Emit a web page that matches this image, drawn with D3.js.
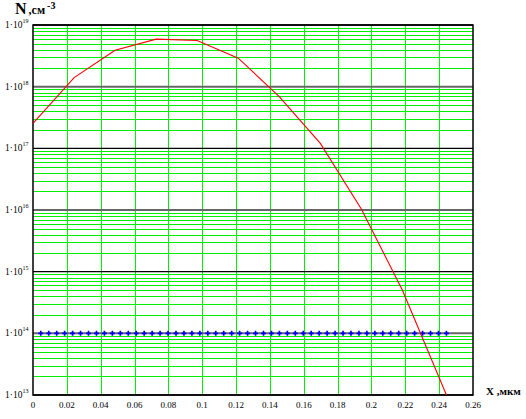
<!DOCTYPE html>
<html>
<head>
<meta charset="utf-8">
<script src="https://cdn.jsdelivr.net/npm/d3@7"></script>
<style>
  body { margin: 0; background: #fff; }
  text { font-family: "Liberation Serif", "DejaVu Serif", serif; fill: #000; }
</style>
</head>
<body>
<svg width="526" height="419"></svg>
<script>
// red profile, x in мкм, N in см^-3
const redX = [0, 0.0243, 0.0485, 0.0728, 0.097, 0.1213, 0.1455, 0.1698, 0.194, 0.2183, 0.2443];
const redN = [2.55e17, 1.4e18, 3.9e18, 5.9e18, 5.6e18, 2.9e18, 6.9e17, 1.2e17, 1.04e16, 5e14, 1e13];

// blue background level
const blueX = [
  0.0046, 0.0093, 0.0140, 0.0187, 0.0234, 0.0281, 0.0328, 0.0375, 0.0422, 0.0469,
  0.0516, 0.0563, 0.0610, 0.0657, 0.0704, 0.0751, 0.0798, 0.0845, 0.0892, 0.0939,
  0.0986, 0.1033, 0.1080, 0.1127, 0.1174, 0.1221, 0.1268, 0.1315, 0.1362, 0.1409,
  0.1456, 0.1503, 0.1550, 0.1597, 0.1644, 0.1691, 0.1738, 0.1785, 0.1832, 0.1879,
  0.1926, 0.1973, 0.2020, 0.2067, 0.2114, 0.2161, 0.2208, 0.2255, 0.2302, 0.2349,
  0.2396, 0.2443
];
const blueLevel = 1e14;

const xTicks = [0, 0.02, 0.04, 0.06, 0.08, 0.1, 0.12, 0.14, 0.16, 0.18, 0.2, 0.22, 0.24, 0.26];
const xTickLabels = ['0', '0.02', '0.04', '0.06', '0.08', '0.1', '0.12', '0.14', '0.16', '0.18', '0.2', '0.22', '0.24', '0.26'];
const yDecades = [13, 14, 15, 16, 17, 18, 19];

const margin = { top: 25, right: 53, bottom: 24, left: 33 };
const width = 526, height = 419;

const svg = d3.select('svg');

const x = d3.scaleLinear()
  .domain([0, 0.26])
  .range([margin.left, width - margin.right]);
const y = d3.scaleLog()
  .domain([1e13, 1e19])
  .range([height - margin.bottom, margin.top]);

// minor grid (2..9 of each decade)
const minor = [];
yDecades.slice(0, -1).forEach((e) => {
  for (let k = 2; k <= 9; k++) minor.push(k * Math.pow(10, e));
});

const grid = svg.append('g');
grid.selectAll('.hminor')
  .data(minor)
  .enter()
  .append('line')
  .attr('x1', x(0)).attr('x2', x(0.26))
  .attr('y1', d => Math.round(y(d)) + 0.5)
  .attr('y2', d => Math.round(y(d)) + 0.5)
  .attr('stroke', '#00ee00')
  .attr('stroke-width', 1);

grid.selectAll('.vgrid')
  .data(xTicks.slice(1, -1))
  .enter()
  .append('line')
  .attr('x1', d => Math.round(x(d)) + 0.5)
  .attr('x2', d => Math.round(x(d)) + 0.5)
  .attr('y1', y(1e19)).attr('y2', y(1e13))
  .attr('stroke', '#00ee00')
  .attr('stroke-width', 1);

grid.selectAll('.hmajor')
  .data(yDecades)
  .enter()
  .append('line')
  .attr('x1', x(0)).attr('x2', x(0.26))
  .attr('y1', d => y(Math.pow(10, d)))
  .attr('y2', d => y(Math.pow(10, d)))
  .attr('stroke', d => (d % 2 === 0 ? '#666' : '#000'))
  .attr('stroke-width', d => (d % 2 === 0 ? 2 : 1.3));

// frame
svg.append('rect')
  .attr('x', x(0)).attr('y', y(1e19))
  .attr('width', x(0.26) - x(0))
  .attr('height', y(1e13) - y(1e19))
  .attr('fill', 'none')
  .attr('stroke', '#000')
  .attr('stroke-width', 1.5);

// blue markers
svg.append('g')
  .selectAll('path')
  .data(blueX)
  .enter()
  .append('path')
  .attr('d', d3.symbol().type(d3.symbolCross).size(14))
  .attr('transform', d => `translate(${x(d)},${y(blueLevel)})`)
  .attr('fill', '#0000ff');

// red curve
const line = d3.line()
  .x(d => x(d[0]))
  .y(d => y(d[1]));
svg.append('path')
  .datum(redX.map((v, i) => [v, redN[i]]))
  .attr('d', line)
  .attr('fill', 'none')
  .attr('stroke', '#ff0000')
  .attr('stroke-width', 1.1);

// x tick labels
svg.append('g')
  .selectAll('text')
  .data(xTicks)
  .enter()
  .append('text')
  .attr('x', d => x(d))
  .attr('y', height - margin.bottom + 13)
  .attr('text-anchor', 'middle')
  .attr('font-size', 9)
  .text((d, i) => xTickLabels[i]);

// y tick labels 1·10^n
const yl = svg.append('g')
  .selectAll('text')
  .data(yDecades)
  .enter()
  .append('text')
  .attr('x', 5)
  .attr('y', d => y(Math.pow(10, d)) + 3)
  .attr('font-size', 9.5);
yl.append('tspan').text('1·10');
yl.append('tspan')
  .attr('dy', -5)
  .attr('font-size', 6)
  .text(d => d);

// axis titles
const nt = svg.append('text')
  .attr('x', 15)
  .attr('y', 14)
  .attr('font-weight', 'bold');
nt.append('tspan').attr('font-size', 16).text('N');
nt.append('tspan').attr('font-size', 12).attr('dx', 2).text(',см');
nt.append('tspan').attr('font-size', 10).attr('dy', -5).attr('dx', 2).text('-3');

svg.append('text')
  .attr('x', 486)
  .attr('y', 395)
  .attr('font-size', 11)
  .attr('font-weight', 'bold')
  .text('X ,мкм');
</script>
</body>
</html>
